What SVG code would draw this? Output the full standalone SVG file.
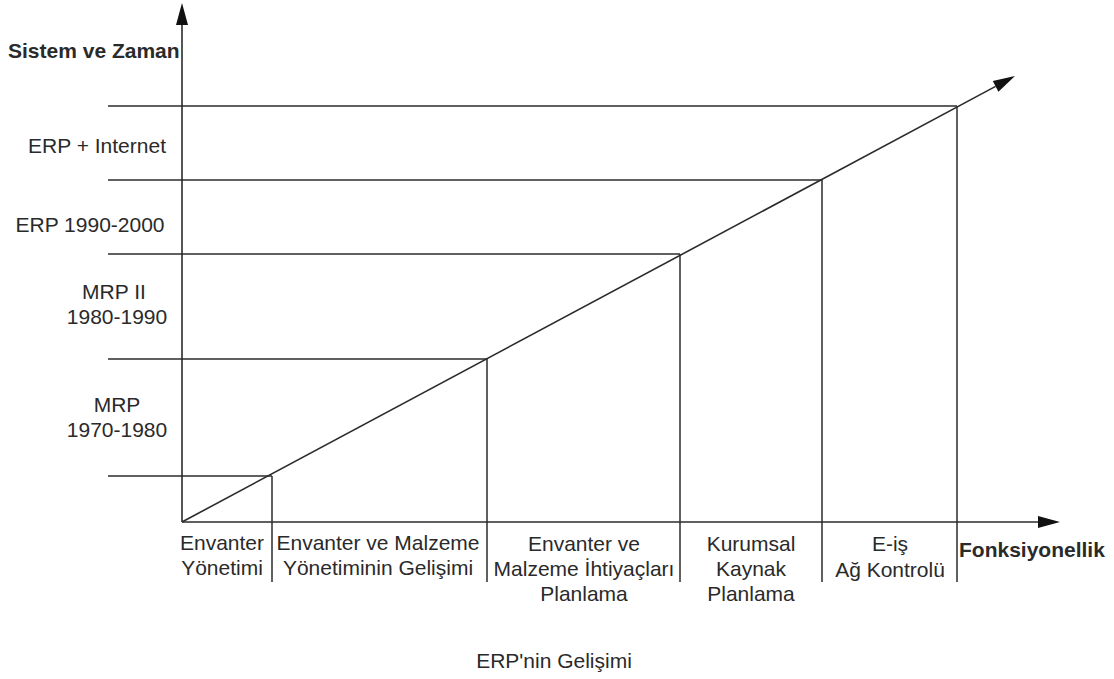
<svg xmlns="http://www.w3.org/2000/svg" width="1114" height="679" viewBox="0 0 1114 679">
  <defs>
    <marker id="arrow" markerUnits="userSpaceOnUse" markerWidth="22" markerHeight="12" refX="0" refY="6" orient="auto" overflow="visible">
      <path d="M0,0 L22,6 L0,12 Z" fill="#111"/>
    </marker>
    <style>
      .ln { stroke: #2b2b2b; stroke-width: 1.5; fill: none; }
      .ax { stroke: #2b2b2b; stroke-width: 1.6; fill: none; marker-end: url(#arrow); }
      text { font-family: "Liberation Sans", Arial, sans-serif; font-size: 21px; fill: #2a2a2a; }
      .b { font-weight: bold; }
      .c { text-anchor: middle; }
    </style>
  </defs>
  <rect width="1114" height="679" fill="#ffffff"/>

  <!-- axes, diagonal and grid lines -->
  <g id="connectors">
    <line class="ax" x1="182" y1="522" x2="182" y2="25"/>
    <line class="ax" x1="182" y1="522" x2="1038" y2="522"/>
    <line class="ax" x1="182" y1="522" x2="995.6" y2="86.4"/>

    <line class="ln" x1="108" y1="476" x2="272" y2="476"/>
    <line class="ln" x1="108" y1="359" x2="487" y2="359"/>
    <line class="ln" x1="108" y1="254" x2="680" y2="254"/>
    <line class="ln" x1="108" y1="180" x2="822" y2="180"/>
    <line class="ln" x1="108" y1="106" x2="957" y2="106"/>

    <line class="ln" x1="272" y1="476" x2="272" y2="582"/>
    <line class="ln" x1="487" y1="359" x2="487" y2="582"/>
    <line class="ln" x1="680" y1="254" x2="680" y2="582"/>
    <line class="ln" x1="822" y1="180" x2="822" y2="582"/>
    <line class="ln" x1="957" y1="106" x2="957" y2="582"/>
  </g>

  <!-- axis titles -->
  <g id="axis-y-title"><text class="b" x="8" y="58">Sistem ve Zaman</text></g>
  <g id="axis-x-title"><text class="b" x="959" y="557">Fonksiyonellik</text></g>

  <!-- periods on the vertical axis -->
  <g id="period-erp-internet"><text class="c" x="97" y="153">ERP + Internet</text></g>
  <g id="period-erp"><text class="c" x="90" y="232">ERP 1990-2000</text></g>
  <g id="period-mrp2">
    <text class="c" x="114" y="299">MRP II</text>
    <text class="c" x="117" y="324">1980-1990</text>
  </g>
  <g id="period-mrp">
    <text class="c" x="117" y="412">MRP</text>
    <text class="c" x="117" y="437">1970-1980</text>
  </g>

  <!-- functional stages on the horizontal axis -->
  <g id="stage-1">
    <text class="c" x="222" y="550">Envanter</text>
    <text class="c" x="222" y="575">Yönetimi</text>
  </g>
  <g id="stage-2">
    <text class="c" x="378" y="550">Envanter ve Malzeme</text>
    <text class="c" x="378" y="575">Yönetiminin Gelişimi</text>
  </g>
  <g id="stage-3">
    <text class="c" x="584" y="551">Envanter ve</text>
    <text class="c" x="584" y="576">Malzeme İhtiyaçları</text>
    <text class="c" x="584" y="601">Planlama</text>
  </g>
  <g id="stage-4">
    <text class="c" x="751" y="551">Kurumsal</text>
    <text class="c" x="751" y="576">Kaynak</text>
    <text class="c" x="751" y="601">Planlama</text>
  </g>
  <g id="stage-5">
    <text class="c" x="890" y="551">E-iş</text>
    <text class="c" x="890" y="577">Ağ Kontrolü</text>
  </g>

  <!-- caption -->
  <g id="caption"><text class="c" x="554" y="668">ERP'nin Gelişimi</text></g>
</svg>
